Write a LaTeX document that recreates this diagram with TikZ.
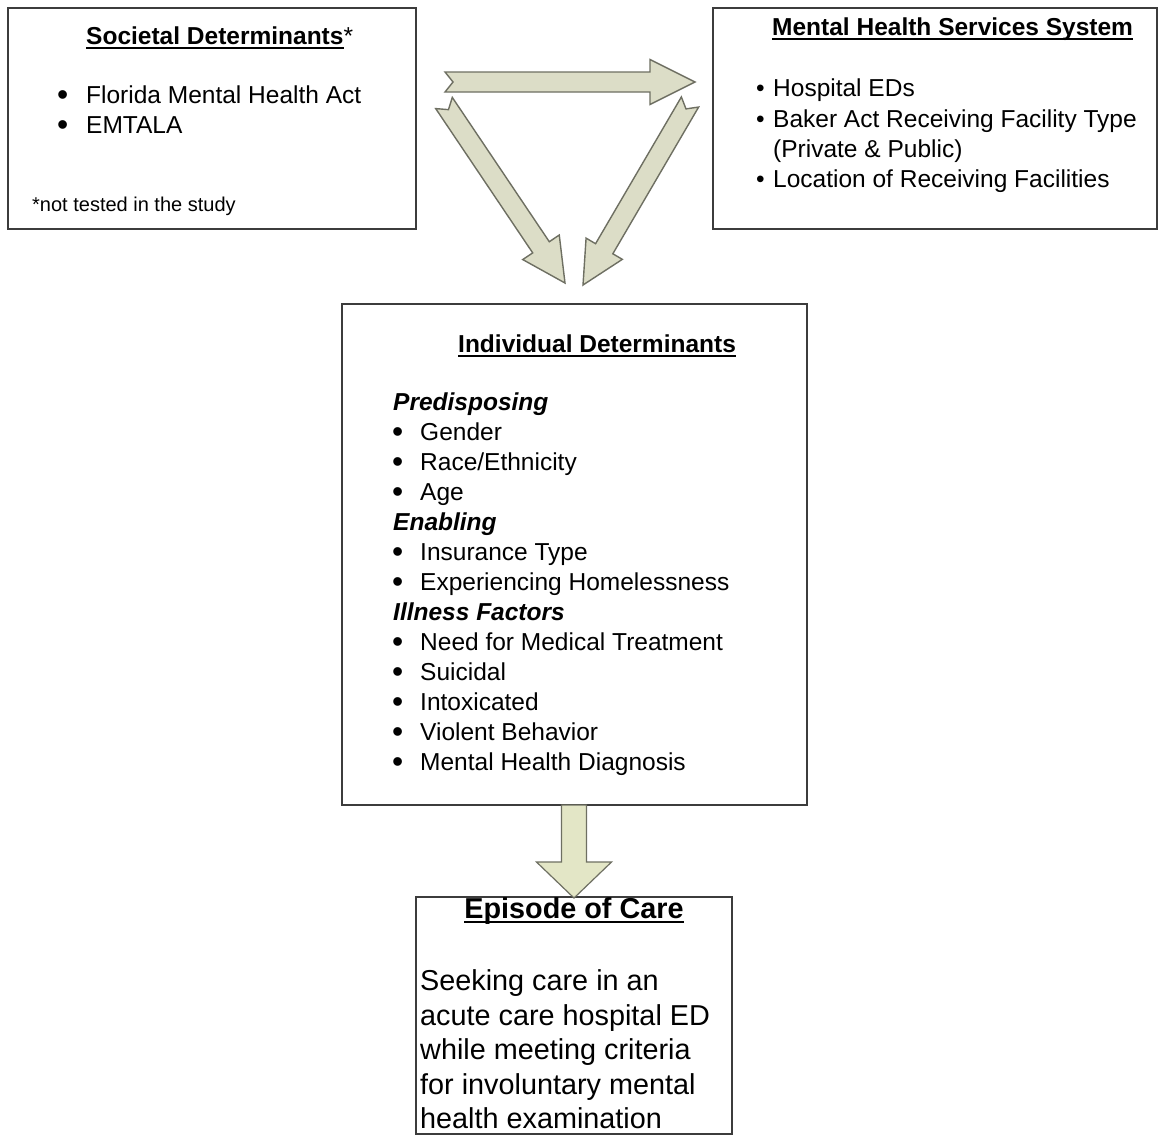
\documentclass[tikz,border=0pt]{standalone}
\usepackage{fontspec}
\usepackage{graphicx}
\setmainfont{Liberation Sans}
\usetikzlibrary{calc}

\definecolor{boxline}{HTML}{3C3C3C}
\definecolor{arrowfill}{HTML}{DCDDC7}
\definecolor{arrowline}{HTML}{6E6F62}
\definecolor{downfill}{HTML}{E3E6C6}

% underlined heading with a heavier rule than \underline gives
\newcommand{\headul}[1]{\setbox0=\hbox{#1}\rlap{\rule[-4.5pt]{\wd0}{1.8pt}}\box0}
% bullet set in a fixed-width slot so that item texts line up
\newcommand{\itm}[2]{\makebox[#1][l]{\textbullet}#2}
% same with a larger bullet dot
\newcommand{\bigitm}[2]{\makebox[#1][l]{\raisebox{-2.4pt}{\scalebox{1.3}{\textbullet}}}#2}

% block arrow between two named coordinates:
% [style]{from}{to}{shaft half width}{head half width}{head length}{tail notch}
\newcommand{\blockarrow}[7][]{%
  \path let \p1=(#2), \p2=(#3) in \pgfextra{%
    \pgfmathsetmacro\baang{atan2(\y2-\y1,\x2-\x1)}%
    \pgfmathsetmacro\balen{veclen(\x2-\x1,\y2-\y1)}%
    \xdef\baang{\baang}\xdef\balen{\balen}%
    \xdef\bax{\x1}\xdef\bay{\y1}};
  \draw[#1, shift={(\bax,\bay)}, rotate=\baang]
    (0,#4) -- ({\balen-#6},#4) -- ({\balen-#6},#5) -- (\balen,0)
    -- ({\balen-#6},-#5) -- ({\balen-#6},-#4) -- (0,-#4) -- (#7,0) -- cycle;
}

\tikzset{
  frame/.style={draw=boxline, line width=1.6pt, fill=white},
  txt/.style={inner sep=0pt, anchor=base west, font=\fontsize{24.5pt}{30pt}\selectfont},
  small/.style={inner sep=0pt, anchor=base west, font=\fontsize{20pt}{24pt}\selectfont},
  big/.style={inner sep=0pt, anchor=base west, font=\fontsize{28.8pt}{34.5pt}\selectfont},
  fat/.style={fill=arrowfill, draw=arrowline, line width=1.4pt, line join=miter},
  fatdown/.style={fill=downfill, draw=arrowline, line width=1.2pt, line join=miter}
}

\begin{document}
\begin{tikzpicture}[x=1pt, y=1pt]
\useasboundingbox[fill=white] (0,0) rectangle (1158,-1135);

% ---------- boxes ----------
\draw[frame] (8,-8) rectangle (416,-229);
\coordinate (socbox) at (212,-118);
\draw[frame] (713,-8) rectangle (1157,-229);
\coordinate (mhsbox) at (935,-118);
\draw[frame] (342,-304) rectangle (807,-805);
\coordinate (indtop) at (574,-304);
\coordinate (indbot) at (574,-805);
\draw[frame] (416,-897) rectangle (732,-1134);
\coordinate (epitop) at (574,-897);

% ---------- Societal Determinants ----------
\node[txt] (soctitle) at (86,-44) {\bfseries\headul{Societal Determinants}\mdseries*};
\node[txt] (soc1) at (57,-103) {\bigitm{29pt}{Florida Mental Health Act}};
\node[txt] (soc2) at (57,-133) {\bigitm{29pt}{EMTALA}};
\node[small] (socnote) at (32,-211) {*not tested in the study};

% ---------- Mental Health Services System ----------
\node[txt] (mhstitle) at (772,-35) {\bfseries\headul{Mental Health Services System}};
\node[txt] (mhs1) at (756,-96) {\itm{17pt}{Hospital EDs}};
\node[txt] (mhs2) at (756,-127) {\itm{17pt}{Baker Act Receiving Facility Type}};
\node[txt] (mhs2b) at (773,-157) {(Private \& Public)};
\node[txt] (mhs3) at (756,-187) {\itm{17pt}{Location of Receiving Facilities}};

% ---------- Individual Determinants ----------
\node[txt] (indtitle) at (458,-352) {\bfseries\headul{Individual Determinants}};
\node[txt] (pre) at (393,-410) {\bfseries\itshape Predisposing};
\node[txt] (pre1) at (392,-440) {\bigitm{28pt}{Gender}};
\node[txt] (pre2) at (392,-470) {\bigitm{28pt}{Race/Ethnicity}};
\node[txt] (pre3) at (392,-500) {\bigitm{28pt}{Age}};
\node[txt] (ena) at (393,-530) {\bfseries\itshape Enabling};
\node[txt] (ena1) at (392,-560) {\bigitm{28pt}{Insurance Type}};
\node[txt] (ena2) at (392,-590) {\bigitm{28pt}{Experiencing Homelessness}};
\node[txt] (ill) at (393,-620) {\bfseries\itshape Illness Factors};
\node[txt] (ill1) at (392,-650) {\bigitm{28pt}{Need for Medical Treatment}};
\node[txt] (ill2) at (392,-680) {\bigitm{28pt}{Suicidal}};
\node[txt] (ill3) at (392,-710) {\bigitm{28pt}{Intoxicated}};
\node[txt] (ill4) at (392,-740) {\bigitm{28pt}{Violent Behavior}};
\node[txt] (ill5) at (392,-770) {\bigitm{28pt}{Mental Health Diagnosis}};

% ---------- Episode of Care ----------
\node[big, anchor=base] (epititle) at (574,-918) {\bfseries\headul{Episode of Care}};
\node[big] (epi1) at (420,-990) {Seeking care in an};
\node[big] (epi2) at (420,-1025) {acute care hospital ED};
\node[big] (epi3) at (420,-1059) {while meeting criteria};
\node[big] (epi4) at (420,-1094) {for involuntary mental};
\node[big] (epi5) at (420,-1128) {health examination};

% ---------- block arrows ----------
\coordinate (hA) at (445,-82);
\coordinate (hB) at (695,-82);
\coordinate (lA) at (444,-103);
\coordinate (lB) at (565,-283);
\coordinate (rA) at (690,-102);
\coordinate (rB) at (583,-285);
\coordinate (dB) at (574,-898);

\blockarrow[fat]{hA}{hB}{10}{22.5}{45}{8}
\blockarrow[fat]{lA}{lB}{10}{22}{43}{8}
\blockarrow[fat]{rA}{rB}{10}{21}{42}{8}
\blockarrow[fatdown]{indbot}{dB}{12.5}{37.5}{36}{0}
\end{tikzpicture}
\end{document}
